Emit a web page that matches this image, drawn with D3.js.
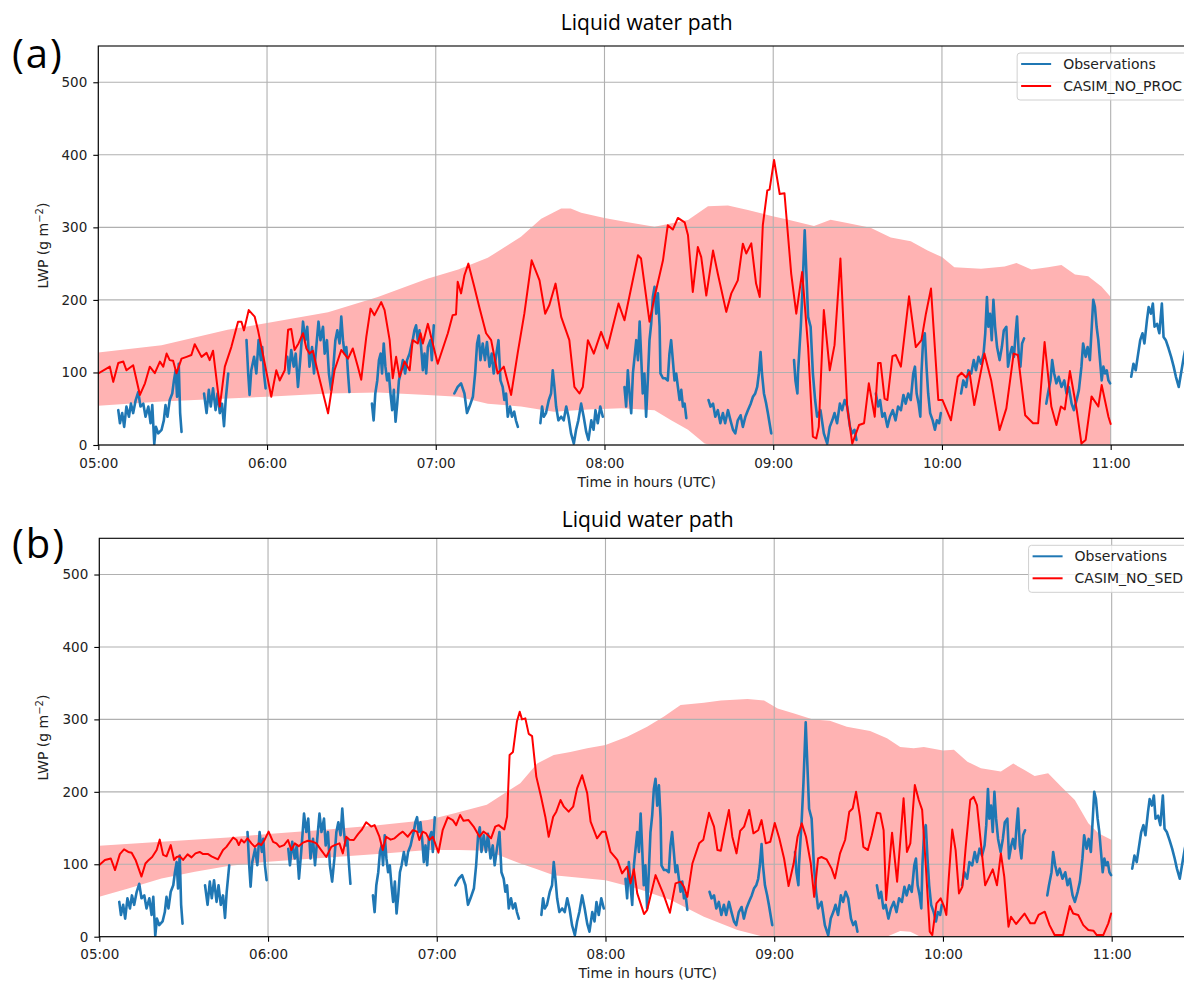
<!DOCTYPE html>
<html>
<head>
<meta charset="utf-8">
<script src="https://cdn.jsdelivr.net/npm/d3@7"></script>
<style>
  body { margin: 0; background: #fff; }
  svg { display: block; }
</style>
</head>
<body>
<svg id="chart" width="1184" height="982"></svg>
<script>
// ---- Axis ticks ----------------------------------------------------------
const hourTicks = ["05:00", "06:00", "07:00", "08:00", "09:00", "10:00", "11:00"];
const lwpTicks = [0, 100, 200, 300, 400, 500];

// All series: [minutes after 05:00 UTC, LWP in g m^-2]

// ---- Observed liquid water path (gaps where retrievals are missing) -------
const observations = [
  [[7.1,48],[7.7,30],[8.5,44],[9.2,25],[10,53],[10.9,39],[11.6,57],[12.4,44],[13.3,62],[14.2,73],[15,53],[16,57],[16.8,39],[17.8,53],[18.6,30],[19.2,55],[19.9,1.4],[20.5,25],[21.3,16],[22.5,21],[23.3,34],[23.9,55],[24.6,39],[25.4,62],[26.3,71],[26.9,89],[27.5,103],[28,66.5],[28.6,112],[29.1,44],[29.6,18]],
  [[37.6,71],[38.5,44],[39.3,76],[40,53],[40.8,78],[41.7,48],[42.4,71],[43.2,44],[44,57],[44.7,26],[45.3,62],[46.2,98.6]],
  [[52.7,144.5],[53.3,98.6],[53.8,69],[54.4,103],[55.4,121.5],[56.2,98.6],[57,144.5],[57.8,117],[58.3,135],[58.9,98.6],[59.5,78]],
  [[67.2,121.5],[67.8,98.6],[68.6,131],[69.5,108],[70.2,126],[71,80],[71.8,117],[72.8,170],[73.6,144.5],[74.3,163],[75.1,108],[76,135],[76.7,98.6],[77.5,135],[78.3,170],[79,144.5],[79.9,163],[80.5,126],[81.3,144.5],[82,98.6],[82.8,76],[83.6,108],[84.3,144.5],[85,158],[85.8,140],[86.4,177],[87,144.5],[87.6,126],[88.2,135],[88.8,98.6],[89.3,73]],
  [[97.3,57],[97.9,34],[98.5,71],[99.2,89],[99.8,117],[100.4,126],[100.9,98.6],[101.5,140],[102.1,108],[102.7,89],[103.3,98.6],[103.9,71],[104.5,48],[105.1,76],[105.7,32],[106.3,57],[106.9,89],[107.5,98.6],[108.3,117],[109.1,98.6],[109.8,117],[110.7,126],[111.2,135],[111.8,144.5],[112.4,158],[113,165],[113.6,144.5],[114.2,158],[114.8,135],[115.4,103],[116,126],[116.6,98.6],[117.2,135],[118.1,144.5],[118.6,117],[119.3,165]],
  [[126.6,71],[127.8,80],[129,85],[130.2,71],[131.1,44],[132,53],[133.2,66.5],[134,98.6],[134.7,140],[135.3,151],[135.9,117],[136.7,140],[137.5,117],[138.2,142],[139.1,108],[139.9,126],[140.6,98.6],[141.4,121.5],[142.3,144.5],[143,89],[143.8,80],[144.4,62],[145,71],[145.6,39],[146.4,53],[147.1,39],[147.9,46],[148.5,34],[149.2,25]],
  [[157.2,30],[157.8,53],[158.4,39],[159.2,44],[160.2,62],[161,71],[161.6,103],[162.2,80],[162.8,53],[163.6,34],[164.6,39],[165.5,34],[166.4,53],[167.2,39],[168.1,16],[169.1,2],[169.9,21],[170.7,34],[171.7,57],[172.6,39],[173.5,18],[174.3,7],[175.3,34],[176.1,21],[176.8,48],[177.6,30],[178.5,53],[179.4,39]],
  [[187.1,80],[187.7,53],[188.3,103],[188.9,71],[189.5,44],[190.1,98.6],[190.7,121.5],[191.3,144.5],[191.9,117],[192.5,170],[193,126],[193.6,71],[194.2,98.6],[194.8,39],[195.4,89],[196,144.5],[196.6,167],[197.2,204],[197.8,218],[198.4,181],[199,209],[199.6,163],[199.9,98.6],[200.8,92],[201.6,92],[202.5,89],[203.1,126],[203.7,144.5],[204.3,117],[204.9,89],[205.5,98.6],[206.1,80],[206.7,62],[207.3,76],[207.9,53],[208.5,57],[209.1,37]],
  [[217,62],[217.7,53],[218.6,57],[219.4,39],[220.3,48],[221.2,30],[222.1,44],[222.9,30],[223.9,48],[224.8,34],[225.7,21],[226.5,16],[227.4,34],[228.4,41],[229.2,25],[230.1,39],[231,48],[232,57],[232.8,66.5],[233.6,71],[234.3,80],[234.9,98.6],[235.5,128],[236,98.6],[236.7,71],[237.5,57],[238.1,44],[238.7,30],[239.3,16]],
  [[247.4,117],[247.9,89],[248.6,71],[248.8,98.6],[249.8,163],[250.4,213],[251.2,296],[251.8,236],[252.4,176.6],[253.3,163],[254.1,98.6],[254.9,62],[255.6,39],[256.8,48],[258,16],[259.2,2],[260.1,25],[261,34],[261.8,44],[262.7,30],[263.7,57],[264.5,48],[265.4,62],[266.3,53],[267.3,25],[268.1,16],[268.9,21],[269.6,7]],
  [[276.5,71],[277.3,53],[278,62],[278.8,39],[279.6,44],[280.6,25],[281.5,39],[282.5,48],[283.5,34],[284.4,53],[285.4,48],[286.3,69],[287.1,57],[288,71],[288.9,62],[289.8,98.6],[290.4,108],[291,71],[291.7,57],[292.3,39],[292.7,98.6],[293.3,144.5],[293.9,154],[294.5,108],[295.1,71],[295.8,44],[296.7,34],[297.5,21],[298.2,34],[299,30],[299.6,44]],
  [[306.8,71],[307.6,89],[308.6,80],[309.4,103],[310.4,98.6],[311.3,117],[312.1,103],[313,121.5],[313.9,112],[314.8,126],[315.4,154],[316,204],[316.5,163],[317.1,181],[317.7,144.5],[318.3,200],[318.9,163],[319.6,135],[320.5,117],[321.3,135],[322,158],[322.9,163],[323.5,108],[324.3,126],[324.9,135],[325.6,121.5],[326.2,154],[326.7,177],[327.3,126],[327.9,108],[328.5,140],[329.2,147]],
  [[337.1,57],[337.7,71],[338.6,89],[339.2,117],[339.9,98.6],[340.7,85],[341.5,94],[342.5,80],[343.5,89],[344.3,71],[345.1,80],[346.1,57],[346.9,48],[347.9,62],[348.7,76],[349.6,108],[350.2,140],[351.1,121.5],[351.8,135],[352.6,117],[353.2,158],[353.8,200],[354.4,190],[355,163],[355.6,144.5],[356.2,117],[356.8,89],[357.4,108],[358,98.6],[358.6,103],[359.2,89],[359.8,85]],
  [[367.3,94],[368.1,112],[368.9,103],[369.6,121.5],[370.5,144.5],[371.3,154],[372,140],[372.9,172],[373.5,190],[374.3,181],[375,195],[375.6,163],[376.5,167],[377.3,154],[378.2,195],[378.8,149],[379.6,144.5],[380.6,133],[381.5,121.5],[382.4,108],[383.2,94],[384.2,80],[385,98.6],[386,121.5],[387,140]]
];

// ---- CASIM_NO_PROC: domain-mean LWP and spread ---------------------------
const noProcMean = [
  [0,98.6],[4.1,108],[5.3,87],[7.1,113],[8.9,115],[10,103],[12.4,110],[14.8,69],[16.6,85],[18.3,108],[20.1,99],[21.9,115],[23.1,108],[24.3,126],[25.4,117],[26.6,116],[27.8,99],[29.6,119],[31.4,121.5],[33.1,124],[34.3,139],[36.7,121.5],[38.5,127],[39.6,117],[40.8,130],[43.2,53],[45,108],[47.3,135],[49.7,170],[50.9,170],[51.8,158],[53.5,186],[55.6,177],[56.8,158],[59.2,112],[61.5,66.5],[63.3,103],[64.5,89],[66.3,103],[67.5,159],[68.6,160],[69.8,131],[71.2,140],[72.8,154],[74,133],[75.1,126],[76.3,130],[77.9,103],[81.7,43.6],[84,103],[86.4,131],[88.8,119],[90.5,133],[92.3,108],[93.5,90],[95.3,149],[96.8,188],[98.2,179],[100.6,197],[101.8,186],[103.6,144.5],[104.7,92],[105.9,121.5],[107.1,94],[108.9,115],[110.7,103],[111.8,144.5],[113.6,140],[114.6,154],[115.4,140],[117.2,167],[120.7,112],[124.3,154],[126,179],[127.2,180],[127.8,225],[129,209],[130.2,234],[131.6,250],[133.7,218],[135.5,190],[137.9,154],[139.7,144.5],[142,98.6],[144.2,108],[146.8,69],[149.2,128.4],[151.5,181],[154.1,254.6],[156.9,227],[158.9,181],[160.4,193],[162.6,222.5],[164.6,176.6],[167.5,144.5],[169.3,80],[171.1,71],[172.3,80],[174.1,144.5],[176.2,126],[178.8,156],[181,133],[185,195],[187.1,172],[191.9,261.5],[193,257],[196,170],[197.8,204],[200.8,254.6],[202.5,302.8],[204.3,297],[206.1,313],[208.5,307],[209.7,289],[211.4,211],[213.2,273],[214.4,259],[216.2,206],[218.6,268],[220.3,236],[223.3,183.5],[225.1,209],[227.4,227],[229.2,277.5],[230.4,264],[232.2,278],[233.9,222.5],[235.2,204],[236.3,303],[237.9,351],[238.7,352],[240.3,393],[242.3,346],[244,347],[246.4,236],[248.2,181],[250.3,238.5],[252.4,135],[254.1,11.5],[255.3,9],[256.2,25],[258,186],[260.1,103],[261.8,137.6],[263.9,257],[266.3,53],[268.1,2],[270.5,27.5],[272.3,30],[274,85],[276.1,39],[277.3,113],[278.2,113],[279.6,64],[280.6,62],[282.4,122.5],[283.6,124],[285.4,108],[288.3,205],[290.7,135],[292.7,144.5],[294.3,181],[296.1,215.6],[298.7,62],[300.2,62],[303.2,34],[305.6,94],[307,99.5],[308.6,93],[309.8,100.5],[311.5,55],[315.1,126],[317.5,89.4],[320.5,20.6],[322.9,50.5],[325.5,126],[327,124],[329.6,41],[332.4,30],[334.2,30],[336.5,142],[338.9,53],[340.7,27.5],[342.3,53],[343.7,49],[345.5,102],[347.9,49],[349.6,2],[351.1,7],[353.2,67],[355.6,53],[356.8,82.6],[359.2,39],[360,29]
];
const noProcUpper = [
  [0,127.5],[22.5,137.6],[46,159],[60,168],[81.7,183],[99.4,204],[117,229],[128,242],[138.5,258],[150.3,287],[157.5,312],[164.6,326],[168,326],[171.7,320],[180,313],[188.3,307],[197.8,301],[209.7,310],[216.8,329],[223.9,330],[231,324],[239,316],[245,311],[254.5,302],[260.4,310.5],[266.3,306],[274.6,299.5],[281.8,286],[288.9,281],[294.9,268],[300,259],[304.4,245],[313.9,243],[322.3,246],[326.5,251],[331.8,242],[337.7,245],[342.5,248],[347.3,235],[352,232.6],[356.8,218],[360,204]
];
const noProcLower = [
  [0,54],[22.5,60],[46,64],[60,66.5],[81.7,71],[99.4,72.5],[117,69],[128,66.5],[138.5,57],[150.3,53],[162,46],[174,49],[186,50.5],[197.8,48],[203.7,34],[209.7,21],[215.6,2],[218,0],[360,0]
];

// ---- CASIM_NO_SED: domain-mean LWP and spread ----------------------------
const noSedMean = [
  [0,99],[2,106],[4.1,108],[5.6,92],[7.3,114],[8.8,120.6],[10.3,117],[11.5,116],[12.9,106],[15,83],[16.4,101],[17.6,106],[18.8,110],[20.4,119.6],[21.5,134],[22.7,113],[23.9,111],[25.4,126.5],[26.6,106],[27.5,110],[28.6,111],[29.8,106],[31.4,113.7],[32.8,109.5],[34.2,115],[35.7,117],[36.9,114],[38.7,114],[39.9,111],[42.2,106.8],[44,119.6],[45.2,124],[47.6,137],[48.8,133.5],[49.6,126.5],[50.5,134],[51.5,130],[52.7,135.8],[54.1,128.9],[55.3,124],[56.7,128.9],[57.6,126.5],[58.8,134],[60.2,145],[61.8,131],[63,128.9],[64.1,124],[65.7,126.5],[67.1,133.5],[68.3,119.6],[69.5,128.9],[70.9,125],[72.4,129.8],[74.2,132.5],[76,131],[77.2,128.9],[78.9,119.6],[80.7,110],[82.5,124],[83.7,126.5],[85.4,128.9],[86.6,115],[87.8,138],[89,134],[90.5,133.5],[92,141.7],[93.4,148],[94.9,158],[96.7,152],[97.9,154],[99.6,138],[100.8,119.6],[102,138],[103.6,134],[105,135.8],[106.7,141.7],[107.9,145],[109.7,138],[111.5,147],[113,145],[113.8,133.5],[115,145],[116.2,142.7],[117.4,133.5],[118.6,138],[120.6,116],[122.1,147],[123.9,164.7],[125.7,161],[126.9,154],[128.3,168],[129.5,160],[131.3,161],[133.1,152],[135.2,138],[136.6,145],[137.8,141.7],[139.3,135.8],[140.8,152],[142,154],[144,148],[145,165.7],[145.9,250.8],[147.1,255],[148.5,297],[149.5,310.6],[150.3,300],[151.5,301.4],[152.7,280],[153.9,277],[155.4,221],[157.1,193],[158.6,165.7],[159.8,138],[161.4,165.7],[162.5,172.6],[164,188.7],[165.2,179.5],[166.9,172.6],[168.5,179.5],[169.9,204.8],[171.7,223],[173.5,198],[174.7,158.8],[177,135.8],[178.8,145],[180,145],[181.8,117],[184.2,106],[185.9,87.4],[187.7,96.6],[188.9,73.6],[190.1,93],[191.3,59.8],[193.7,31.3],[194.8,36.8],[197.8,85],[200.5,59.8],[202.9,33],[204.9,73.6],[206.7,76],[207.9,69],[209.1,55],[210.9,101],[213.3,128.9],[214.8,134],[216.8,171],[218.6,152],[219.8,119.6],[221,118.7],[222.4,147],[223.9,175],[225.1,138],[226.6,115],[227.9,146],[229.3,152],[231.1,175],[232.6,142.7],[234.3,147],[235.5,161],[237,128.9],[238.6,131],[240.2,157],[241.8,135.8],[243.5,108],[245.1,70],[246.9,101],[248.3,138],[249.8,156.5],[251.3,138],[253,101],[254.2,55],[255.6,108],[256.8,110],[258.6,106.8],[260.4,94],[261.6,80.5],[263.4,115],[265.2,133.5],[266.7,172.6],[267.9,177],[269.1,200],[270.5,165.7],[271.7,124],[273.3,119.6],[274.7,140],[276.5,171],[277.7,170],[278.9,147],[279.8,50.6],[281.9,143.6],[283.7,76],[286,191],[287.2,117],[288.4,128.9],[290,209.4],[291.4,188.7],[292.6,175],[294,92],[295.3,7],[296.2,2.3],[297.7,46],[299.2,53],[300.4,41.4],[301.2,30],[302.1,83],[303.3,148],[304.5,119.6],[305.7,59.8],[306.9,69],[308.1,124],[309.7,188.7],[310.9,193],[312.1,181.8],[313.5,128.9],[315,71],[316.5,83],[317.7,93],[319.2,71],[320.6,115],[321.8,83],[323.3,13.8],[324.2,27.6],[326,17.5],[329,32],[331.1,18.4],[332.6,18.4],[334,30],[336.2,34.5],[337.9,16],[339.7,2.3],[342.7,2.3],[345.1,42.3],[346.3,32],[348.1,30],[349.9,16],[351.7,9.2],[353.5,8.3],[354.7,2.3],[357,2.3],[358.8,18.4],[359.8,32]
];
const noSedUpper = [
  [0,125.6],[22.1,131],[45.8,137],[60,141.7],[81.3,148],[99,154],[116.8,161],[126,170],[137.8,182],[149.7,212],[155.7,239],[161.6,251],[167.5,255],[173.5,260],[180,264.6],[187.7,276],[194.8,290],[200.8,304],[206.7,320],[215,323],[221,326],[230.5,328],[236.4,326],[241.2,315],[247.1,308],[253.8,300],[259.8,298],[265.8,290],[274.1,284],[280.1,274],[284.8,262],[289.6,260],[293.2,262],[300,257],[303.9,258],[308.7,241.6],[313.5,232.4],[320.6,228],[325,239],[329,230],[332.6,222],[337.4,225.5],[342.1,207],[346.9,188.7],[351.7,156.5],[355.3,142.7],[360,133.5]
];
const noSedLower = [
  [0,55],[10.3,66.7],[22.1,80.5],[34,89.7],[45.8,97.6],[60,103.5],[81.3,109.5],[99,114],[116.8,119.6],[128,119.6],[137.8,118.7],[143.8,110],[149.7,101],[155.7,93],[161.6,85],[173.5,80.5],[180,78],[191.3,66.7],[203.2,50.6],[215,27.6],[226.9,9.2],[235.2,1],[237,0],[280,0],[284.8,8],[288.4,7],[292,0],[360,0]
];

// ---- Figure layout ---------------------------------------------------------
const HOUR_PX = 168.73;
const START = Date.UTC(2018, 0, 1, 5, 0);
const toTime = m => new Date(START + m * 60000);
const parseHour = d3.utcParse("%Y-%m-%d %H:%M");
const tickDates = hourTicks.map(h => parseHour("2018-01-01 " + h));

const panels = [
  { tag: "a", run: "CASIM_NO_PROC", mean: noProcMean, upper: noProcUpper, lower: noProcLower,
    left: 98.3, top: 46, bottom: 445, titleY: 30, tagY: 68, tickY: 8, xlabelY: 487 },
  { tag: "b", run: "CASIM_NO_SED", mean: noSedMean, upper: noSedUpper, lower: noSedLower,
    left: 99.3, top: 538.3, bottom: 936.7, titleY: 527, tagY: 558, tickY: 8, xlabelY: 978 }
];

const COLORS = { obs: "#1f77b4", model: "#ff0000", spread: "#ffb3b3", grid: "#b0b0b0" };
const svg = d3.select("#chart");
const defs = svg.append("defs");

panels.forEach((p, i) => {
  const width = 6.5 * HOUR_PX;
  const right = p.left + width;
  const x = d3.scaleUtc().domain([toTime(0), toTime(390)]).range([p.left, right]);
  const y = d3.scaleLinear().domain([0, 550]).range([p.bottom, p.top]);
  const g = svg.append("g");

  const clipId = "plot-clip-" + i;
  defs.append("clipPath").attr("id", clipId)
    .append("rect").attr("x", p.left).attr("y", p.top)
    .attr("width", width).attr("height", p.bottom - p.top);

  const line = d3.line().x(d => x(toTime(d[0]))).y(d => y(d[1]));

  // Model spread envelope
  const envelope = p.upper.concat(p.lower.slice().reverse());
  g.append("path")
    .attr("d", line(envelope) + "Z")
    .attr("fill", COLORS.spread)
    .attr("clip-path", `url(#${clipId})`);

  // Grid
  const grid = g.append("g").attr("stroke", COLORS.grid).attr("stroke-width", 1.1);
  tickDates.forEach(d => grid.append("line")
    .attr("x1", x(d)).attr("x2", x(d)).attr("y1", p.top).attr("y2", p.bottom));
  lwpTicks.forEach(v => grid.append("line")
    .attr("x1", p.left).attr("x2", right).attr("y1", y(v)).attr("y2", y(v)));

  // Observations
  const lines = g.append("g").attr("clip-path", `url(#${clipId})`).attr("fill", "none")
    .attr("stroke-linejoin", "round").attr("stroke-linecap", "round");
  observations.forEach(seg => lines.append("path")
    .attr("d", line(seg)).attr("stroke", COLORS.obs).attr("stroke-width", 2.6));

  // Model mean
  lines.append("path").attr("d", line(p.mean))
    .attr("stroke", COLORS.model).attr("stroke-width", 2);

  // Axes
  const xAxis = d3.axisBottom(x).tickValues(tickDates)
    .tickFormat(d3.utcFormat("%H:%M")).tickSize(5).tickPadding(p.tickY);
  const yAxis = d3.axisLeft(y).tickValues(lwpTicks).tickSize(5).tickPadding(6);

  const gx = g.append("g").attr("transform", `translate(0,${p.bottom})`).call(xAxis);
  const gy = g.append("g").attr("transform", `translate(${p.left},0)`).call(yAxis);
  [gx, gy].forEach(a => {
    a.select(".domain").remove();
    a.selectAll(".tick line").attr("stroke", "#000").attr("stroke-width", 1.1);
    a.selectAll(".tick text").attr("fill", "#222")
      .style("font-family", "'DejaVu Sans', sans-serif").style("font-size", "13.5px");
  });

  // Spines
  g.append("rect").attr("x", p.left).attr("y", p.top)
    .attr("width", width).attr("height", p.bottom - p.top)
    .attr("fill", "none").attr("stroke", "#000").attr("stroke-width", 1.1);

  // Axis labels
  g.append("text")
    .attr("x", (p.left + right) / 2).attr("y", p.xlabelY)
    .attr("text-anchor", "middle").attr("fill", "#222")
    .style("font-family", "'DejaVu Sans', sans-serif").style("font-size", "14px")
    .text("Time in hours (UTC)");

  const yl = g.append("text")
    .attr("transform", `translate(48,${(p.top + p.bottom) / 2}) rotate(-90)`)
    .attr("text-anchor", "middle").attr("fill", "#222")
    .style("font-family", "'DejaVu Sans', sans-serif").style("font-size", "14px");
  yl.append("tspan").text("LWP (g m");
  yl.append("tspan").attr("dy", -5).style("font-size", "10px").text("\u22122");
  yl.append("tspan").attr("dy", 5).text(")");

  // Title and panel tag
  g.append("text")
    .attr("x", (p.left + right) / 2).attr("y", p.titleY)
    .attr("text-anchor", "middle").attr("fill", "#000")
    .style("font-family", "'Open Sans', sans-serif").style("font-size", "21px")
    .text("Liquid water path");

  g.append("text")
    .attr("x", 12).attr("y", p.tagY).attr("fill", "#000")
    .style("font-family", "'Open Sans', sans-serif").style("font-size", "40px")
    .style("letter-spacing", "2px")
    .text(`(${p.tag})`);

  // Legend (upper right)
  const legend = g.append("g");
  const box = legend.append("rect");
  const entries = [
    { label: "Observations", color: COLORS.obs },
    { label: p.run, color: COLORS.model }
  ];
  const texts = entries.map((e, k) => legend.append("text")
    .attr("y", p.top + 18 + k * 22 + 5)
    .attr("fill", "#222")
    .style("font-family", "'DejaVu Sans', sans-serif").style("font-size", "14px")
    .text(e.label));
  const maxW = d3.max(texts, t => t.node().getComputedTextLength());
  const boxRight = right - 7;
  const textX = boxRight - 6 - maxW;
  texts.forEach(t => t.attr("x", textX));
  entries.forEach((e, k) => legend.append("line")
    .attr("x1", textX - 42).attr("x2", textX - 12)
    .attr("y1", p.top + 18 + k * 22).attr("y2", p.top + 18 + k * 22)
    .attr("stroke", e.color).attr("stroke-width", 2));
  box.attr("x", textX - 46).attr("y", p.top + 7)
    .attr("width", boxRight - (textX - 46)).attr("height", 47)
    .attr("rx", 3).attr("fill", "#fff").attr("fill-opacity", 0.8)
    .attr("stroke", "#d0d0d0").attr("stroke-width", 1);
});
</script>
</body>
</html>
